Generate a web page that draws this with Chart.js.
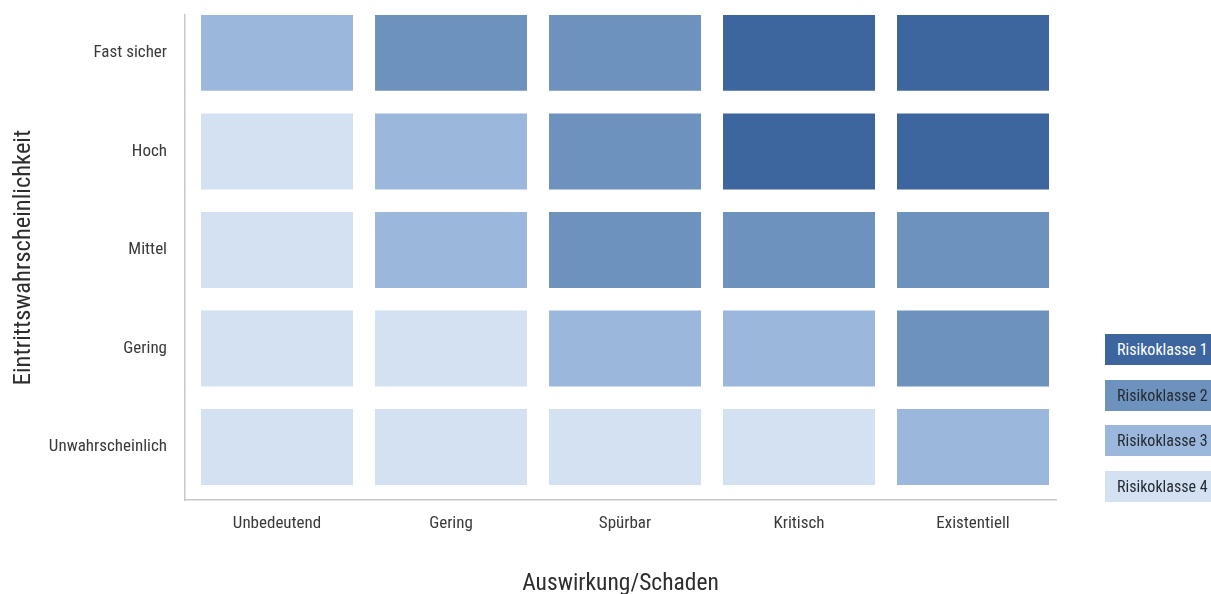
<!DOCTYPE html>
<html lang="de">
<head>
<meta charset="utf-8">
<title>Risikomatrix</title>
<script src="https://cdn.jsdelivr.net/npm/chart.js@4.4.1/dist/chart.umd.min.js"></script>
<style>
  html, body { margin: 0; padding: 0; background: #fff; overflow: hidden; }
  #wrap { position: relative; width: 1211px; height: 594px; }
  #legend { position: absolute; left: 1105px; top: 334px; }
  .item {
    position: absolute; left: 0; width: 120px; height: 31px; line-height: 31px;
    padding-left: 12px; box-sizing: border-box; white-space: nowrap;
    font-family: "Roboto Condensed", "Liberation Sans Narrow", "DejaVu Sans Condensed", sans-serif;
    font-size: 16px;
  }
</style>
</head>
<body>
<div id="wrap">
  <canvas id="riskChart" width="1211" height="594"></canvas>
  <div id="legend"></div>
</div>
<script>
// Achsen
var impactLabels = ['Unbedeutend', 'Gering', 'Spürbar', 'Kritisch', 'Existentiell'];
var likelihoodLabels = ['Unwahrscheinlich', 'Gering', 'Mittel', 'Hoch', 'Fast sicher'];

// Risikoklasse je Feld, eine Zeile pro Eintrittswahrscheinlichkeit
var riskUnwahrscheinlich = [4, 4, 4, 4, 3];
var riskGering = [4, 4, 3, 3, 2];
var riskMittel = [4, 3, 2, 2, 2];
var riskHoch = [4, 3, 2, 1, 1];
var riskFastSicher = [3, 2, 2, 1, 1];

var classLabels = ['Risikoklasse 1', 'Risikoklasse 2', 'Risikoklasse 3', 'Risikoklasse 4'];
var classColors = ['#3d659e', '#6d92bd', '#9bb8dc', '#d3e1f3'];
var classTextColors = ['#ffffff', '#262b33', '#262b33', '#262b33'];

var FONT = '"Roboto Condensed", "Liberation Sans Narrow", "DejaVu Sans Condensed", sans-serif';
var CELL_HALF = 0.385;

var rows = [riskUnwahrscheinlich, riskGering, riskMittel, riskHoch, riskFastSicher];

var datasets = rows.map(function(cls, r) {
    return {
        label: likelihoodLabels[r],
        data: cls.map(function(c, i) {
            return { x: i, y: [r - CELL_HALF, r + CELL_HALF] };
        }),
        backgroundColor: cls.map(function(c) { return classColors[c - 1]; }),
        borderWidth: 0,
        grouped: false,
        categoryPercentage: 0.8736,
        barPercentage: 1
    };
});

var ctx = document.getElementById('riskChart').getContext('2d');
var riskChart = new Chart(ctx, {
    type: 'bar',
    data: { datasets: datasets },
    options: {
        responsive: false,
        animation: false,
        layout: { padding: { left: 0, right: 155, top: 15, bottom: 0 } },
        plugins: { legend: { display: false }, tooltip: { enabled: false } },
        scales: {
            x: {
                type: 'linear',
                min: -0.529,
                max: 4.477,
                offset: false,
                grid: { display: false, drawTicks: false },
                border: { display: true, color: '#c8c8c8', width: 1.5 },
                afterBuildTicks: function(s) {
                    s.ticks = impactLabels.map(function(_, i) { return { value: i }; });
                },
                afterFit: function(s) {
                    s.height = 94;
                    s.paddingLeft = 0;
                    s.paddingRight = 0;
                },
                ticks: {
                    autoSkip: false,
                    maxRotation: 0,
                    padding: 14,
                    color: '#3a3a3a',
                    font: { family: FONT, size: 17 },
                    callback: function(v) { return impactLabels[v]; }
                },
                title: {
                    display: true,
                    text: 'Auswirkung/Schaden',
                    color: '#2e2e2e',
                    font: { family: FONT, size: 23.5, lineHeight: 0.85 },
                    padding: 0
                }
            },
            y: {
                type: 'linear',
                min: -0.538,
                max: 4.385,
                grid: { display: false, drawTicks: false },
                border: { display: true, color: '#c8c8c8', width: 1.5 },
                afterBuildTicks: function(s) {
                    s.ticks = likelihoodLabels.map(function(_, i) { return { value: i }; });
                },
                afterFit: function(s) {
                    s.width = 185;
                    s.paddingTop = 0;
                    s.paddingBottom = 0;
                },
                ticks: {
                    padding: 18,
                    color: '#3a3a3a',
                    font: { family: FONT, size: 17 },
                    callback: function(v) { return likelihoodLabels[v]; }
                },
                title: {
                    display: true,
                    text: 'Eintrittswahrscheinlichkeit',
                    color: '#2e2e2e',
                    font: { family: FONT, size: 24.5, lineHeight: 1.2 },
                    padding: { top: 9 }
                }
            }
        }
    }
});

// Legende rechts: farbige Kästen mit Beschriftung
var legend = document.getElementById('legend');
classLabels.forEach(function(label, i) {
    var el = document.createElement('div');
    el.className = 'item';
    el.style.top = (i * 45.7) + 'px';
    el.style.background = classColors[i];
    el.style.color = classTextColors[i];
    el.textContent = label;
    legend.appendChild(el);
});
</script>
</body>
</html>
